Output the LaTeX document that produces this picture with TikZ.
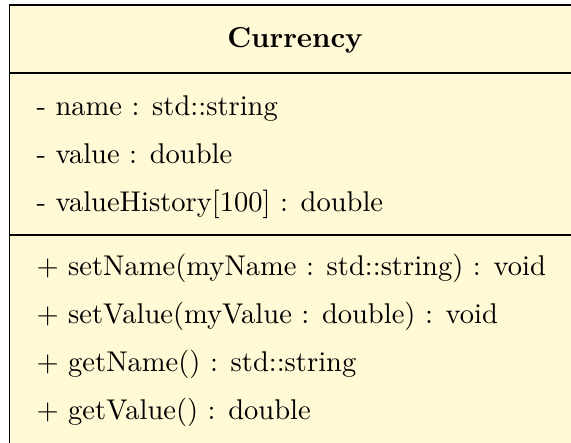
\documentclass[tikz,border=0pt]{standalone}
\usepackage{tikz}
\definecolor{classfill}{RGB}{255,249,214}
\begin{document}
\begin{tikzpicture}[x=0.375pt,y=-0.375pt,
  every node/.style={font=\fontsize{10.7}{13}\selectfont},
  member/.style={anchor=base west,inner sep=0pt},
  title/.style={anchor=base,inner sep=0pt,font=\fontsize{10.8}{13}\selectfont\bfseries},
  boxline/.style={line width=0.55pt,draw=black}]
\useasboundingbox (0,0) rectangle (571,443);
\begin{scope}
\clip (0,0) rectangle (571,443);
\fill[classfill] (9.5,5) rectangle (600,470);
\draw[boxline] (600,5) -- (9.5,5) -- (9.5,470);
\draw[boxline] (9.5,73) -- (600,73);
\draw[boxline] (9.5,235) -- (600,235);
\end{scope}
\node[title] (t) at (295,48) {Currency};
\node[member] (a1) at (36,116) {- name : std::string};
\node[member] (a2) at (36,164) {- value : double};
\node[member] (a3) at (36,212) {- valueHistory[100] : double};
\node[member] (m1) at (36,276) {+ setName(myName : std::string) : void};
\node[member] (m2) at (36,324) {+ setValue(myValue : double) : void};
\node[member] (m3) at (36,372) {+ getName() : std::string};
\node[member] (m4) at (36,420) {+ getValue() : double};
\end{tikzpicture}
\end{document}
